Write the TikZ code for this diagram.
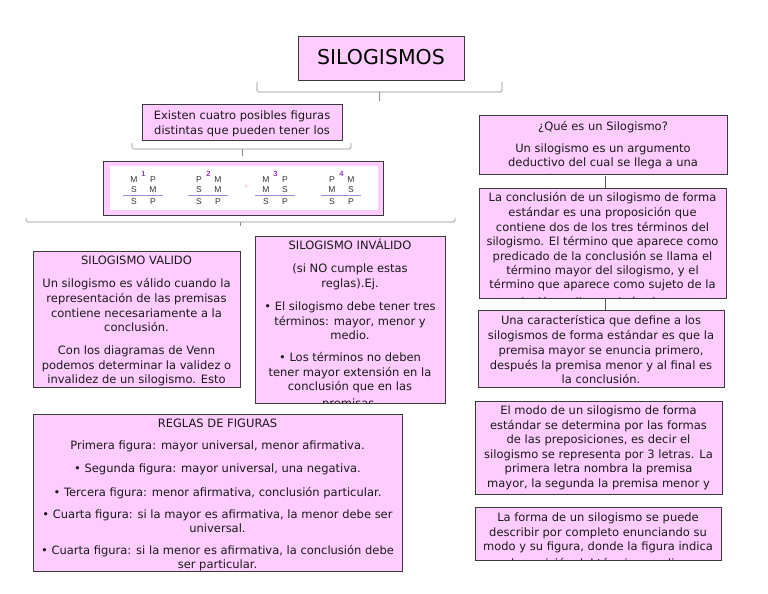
\documentclass[tikz,border=0pt]{standalone}
\usepackage{fontspec}
\setmainfont{DejaVu Sans}
\newfontfamily\figfont{Liberation Sans}
\definecolor{boxpink}{HTML}{FFCCFF}
\definecolor{boxline}{HTML}{3A3A3A}
\definecolor{brk}{HTML}{8A8A8A}
\definecolor{figline}{HTML}{A088E0}
\definecolor{fignum}{HTML}{9933BB}
\newcommand\PutLines[3]{%
  \foreach \LY/\LT [count=\LI] in {#3} {\node[txt] (#1\LI) at (#2,\LY) {\LT};}}
\begin{document}
\begin{tikzpicture}[x=1pt,y=-1pt,
  pbox/.style={draw=boxline,fill=boxpink,line width=0.9pt,anchor=north west,inner sep=0pt,outer sep=0pt},
  bord/.style={draw=boxline,line width=0.9pt},
  txt/.style={anchor=base,inner sep=0pt,font=\fontsize{11.5}{14}\selectfont,text=black!90},
  brkline/.style={draw=brk,line width=0.7pt,rounded corners=1.5pt},
  conn/.style={draw=black!65,line width=0.6pt},
  figtxt/.style={anchor=base,inner sep=0pt,font=\figfont\fontsize{8.5}{10}\selectfont,text=black!80},
  fignumst/.style={anchor=base,inner sep=0pt,font=\figfont\bfseries\fontsize{7.5}{9}\selectfont,text=fignum}]
\useasboundingbox[fill=white] (0,0) rectangle (768,594);

% ---------- title
\node[pbox,minimum width=166pt,minimum height=44pt] (title) at (298,36) {};
\node[inner sep=0pt,anchor=base,font=\fontsize{20.5}{24}\selectfont] (titletxt) at (381,65) {SILOGISMOS};

% bracket under title
\coordinate (tbl) at (257,82); \coordinate (tbr) at (502,82);
\coordinate (tbc) at (379,92);
\draw[brkline] (tbl) -- (tbl |- tbc) -- (tbr |- tbc) -- (tbr);
\draw[brkline] (tbc) -- ++(0,9);

% ---------- Existen
\node[pbox,minimum width=200pt,minimum height=36pt] (exist) at (142,104) {};
\begin{scope}
\clip (exist.north west) rectangle (exist.south east);
\PutLines{ex}{242}{119/Existen cuatro posibles figuras, 134/distintas que pueden tener los}
\end{scope}
\draw[bord] (exist.north west) rectangle (exist.south east);

\coordinate (ebl) at (132,143); \coordinate (ebr) at (351,143);
\coordinate (ebc) at (242,149);
\draw[brkline] (ebl) -- (ebl |- ebc) -- (ebr |- ebc) -- (ebr);
\draw[brkline] (ebc) -- ++(0,7);

% ---------- figures box
\node[pbox,minimum width=280pt,minimum height=54pt] (figs) at (103,161) {};
\fill[white] (110,166) rectangle (378,210);
\foreach \c/\n/\a/\b/\p/\q in {143/1/M/P/S/M, 208/2/P/M/S/M, 275/3/M/P/M/S, 341/4/P/M/M/S} {
  \node[figtxt] (fa\n) at (\c-9,182.5) {\a};
  \node[figtxt] (fb\n) at (\c+10,182.5) {\b};
  \node[fignumst] (fn\n) at (\c+0.5,176) {\n};
  \node[figtxt] (fc\n) at (\c-9,192.5) {\p};
  \node[figtxt] (fd\n) at (\c+10,192.5) {\q};
  \draw[figline,line width=0.9pt] (\c-20,195.5) coordinate (ls\n) -- (\c+20,195.5) coordinate (le\n);
  \node[figtxt] (fe\n) at (\c-9,204.5) {S};
  \node[figtxt] (ff\n) at (\c+10,204.5) {P};
}
\fill[red!85] (246,186) circle (0.7pt);

\coordinate (fbl) at (26,218); \coordinate (fbr) at (455,218);
\coordinate (fbc) at (240,222);
\draw[brkline] (fbl) -- (fbl |- fbc) -- (fbr |- fbc) -- (fbr);
\draw[brkline] (fbc) -- ++(0,4);

% ---------- SILOGISMO VALIDO
\node[pbox,minimum width=207pt,minimum height=136pt] (valido) at (33,251) {};
\begin{scope}
\clip (valido.north west) rectangle (valido.south east);
\PutLines{va}{136.5}{264/SILOGISMO VALIDO, 287/Un silogismo es válido cuando la, 302/representación de las premisas, 317/contiene necesariamente a la, 331/conclusión., 354/Con los diagramas de Venn, 369/podemos determinar la validez o, 383.5/invalidez de un silogismo. Esto}
\end{scope}
\draw[bord] (valido.north west) rectangle (valido.south east);

% ---------- SILOGISMO INVALIDO
\node[pbox,minimum width=190pt,minimum height=167pt] (invalido) at (255,236) {};
\begin{scope}
\clip (invalido.north west) rectangle (invalido.south east);
\PutLines{in}{350}{249/SILOGISMO INVÁLIDO, 272/(si NO cumple estas, 287/reglas).Ej., 310/• El silogismo debe tener tres, {325/{términos: mayor, menor y}}, 339/medio., 361/• Los términos no deben, 376/tener mayor extensión en la, 390/conclusión que en las, 407/premisas.}
\end{scope}
\draw[bord] (invalido.north west) rectangle (invalido.south east);

% ---------- REGLAS DE FIGURAS
\node[pbox,minimum width=369pt,minimum height=157pt] (reglas) at (33,414) {};
\begin{scope}
\clip (reglas.north west) rectangle (reglas.south east);
\PutLines{re}{217.5}{427/REGLAS DE FIGURAS, {449/{Primera figura: mayor universal, menor afirmativa.}}, {472/{• Segunda figura: mayor universal, una negativa.}}, {496/{• Tercera figura: menor afirmativa, conclusión particular.}}, {518/{• Cuarta figura: si la mayor es afirmativa, la menor debe ser}}, 532/universal., {554/{• Cuarta figura: si la menor es afirmativa, la conclusión debe}}, 568/ser particular.}
\end{scope}
\draw[bord] (reglas.north west) rectangle (reglas.south east);

% ---------- right column
\node[pbox,minimum width=248pt,minimum height=59pt] (q1) at (479,115) {};
\begin{scope}
\clip (q1.north west) rectangle (q1.south east);
\PutLines{qa}{603}{130/¿Qué es un Silogismo?, 152/Un silogismo es un argumento, 166/deductivo del cual se llega a una, 183/conclusión a partir de dos premisas.}
\end{scope}
\draw[bord] (q1.north west) rectangle (q1.south east);

\node[pbox,minimum width=247pt,minimum height=110pt] (q2) at (479,188) {};
\begin{scope}
\clip (q2.north west) rectangle (q2.south east);
\PutLines{qb}{602.5}{201/La conclusión de un silogismo de forma, 216/estándar es una proposición que, 231/contiene dos de los tres términos del, 245/silogismo. El término que aparece como, 260/predicado de la conclusión se llama el, {274/{término mayor del silogismo, y el}}, 288/término que aparece como sujeto de la, 306/conclusión se llama el término menor}
\end{scope}
\draw[bord] (q2.north west) rectangle (q2.south east);

\node[pbox,minimum width=246pt,minimum height=77pt] (q3) at (478,310) {};
\begin{scope}
\clip (q3.north west) rectangle (q3.south east);
\PutLines{qc}{601}{324/Una característica que define a los, 339/silogismos de forma estándar es que la, {354/{premisa mayor se enuncia primero,}}, 369/después la premisa menor y al final es, 383/la conclusión.}
\end{scope}
\draw[bord] (q3.north west) rectangle (q3.south east);

\node[pbox,minimum width=247pt,minimum height=93pt] (q4) at (475,401) {};
\begin{scope}
\clip (q4.north west) rectangle (q4.south east);
\PutLines{qd}{598.5}{414/El modo de un silogismo de forma, 429/estándar se determina por las formas, {443/{de las preposiciones, es decir el}}, 458/silogismo se representa por 3 letras. La, 472/primera letra nombra la premisa, {487/{mayor, la segunda la premisa menor y}}}
\end{scope}
\draw[bord] (q4.north west) rectangle (q4.south east);

\node[pbox,minimum width=246pt,minimum height=53pt] (q5) at (475,507) {};
\begin{scope}
\clip (q5.north west) rectangle (q5.south east);
\PutLines{qe}{598}{521/La forma de un silogismo se puede, 536/describir por completo enunciando su, {550/{modo y su figura, donde la figura indica}}, 567/la posición del término medio.}
\end{scope}
\draw[bord] (q5.north west) rectangle (q5.south east);

\coordinate (k1) at (605,176);
\draw[conn] (k1) -- (k1 |- q2.north);
\coordinate (k2) at (605,299);
\draw[conn] (k2) -- (k2 |- q3.north);
\end{tikzpicture}
\end{document}
